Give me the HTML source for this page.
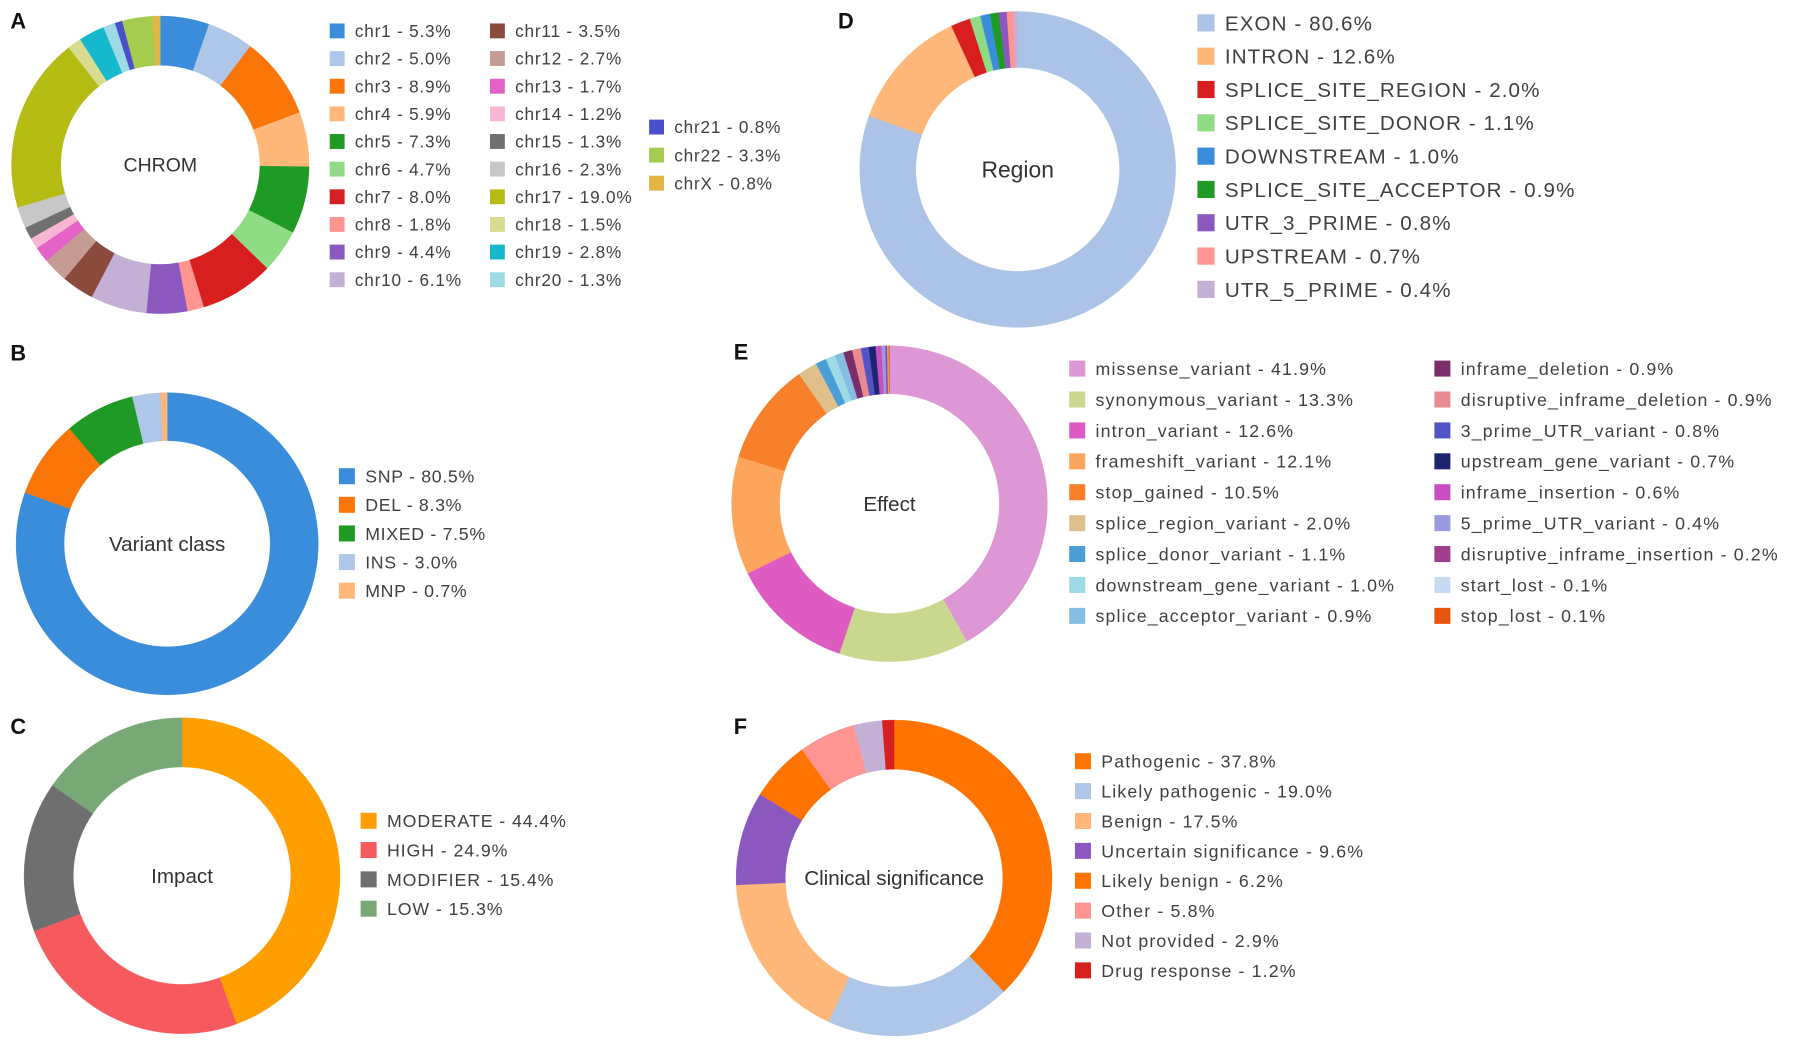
<!DOCTYPE html>
<html><head><meta charset="utf-8"><style>
html,body{margin:0;padding:0;background:#fff;}
svg{display:block;font-family:"Liberation Sans",Arial,sans-serif;}
.lg{fill:#404040;}
.pl{font-weight:bold;fill:#111;font-size:19px;}
.ct{fill:#333;}
</style></head><body>
<svg id="fig" width="1795" height="1052" viewBox="0 0 1568 919"></svg>
<script>
const chromCats=["chr1","chr2","chr3","chr4","chr5","chr6","chr7","chr8","chr9","chr10","chr11","chr12","chr13","chr14","chr15","chr16","chr17","chr18","chr19","chr20","chr21","chr22","chrX"];
const chromVals=[5.3,5.0,8.9,5.9,7.3,4.7,8.0,1.8,4.4,6.1,3.5,2.7,1.7,1.2,1.3,2.3,19.0,1.5,2.8,1.3,0.8,3.3,0.8];
const chromCols=["#3a8ddb","#aec7e8","#fb7608","#ffb77a","#1f9a24","#8fdc85","#d81f1f","#ff9490","#8b58c0","#c5b0d5","#8a4a3c","#c49c94","#e462c6","#f7b6d2","#707070","#c7c7c7","#b5bb12","#d7dc8f","#15b8cc","#9edae5","#4a4fcc","#a4cc4e","#e3b545"];
const variantCats=["SNP","DEL","MIXED","INS","MNP"];
const variantVals=[80.5,8.3,7.5,3.0,0.7];
const variantCols=["#3a8ddb","#fb7608","#1f9a24","#aec7e8","#ffb77a"];
const impactCats=["MODERATE","HIGH","MODIFIER","LOW"];
const impactVals=[44.4,24.9,15.4,15.3];
const impactCols=["#ff9e00","#f65a5e","#6f6f6f","#78a876"];
const regionCats=["EXON","INTRON","SPLICE_SITE_REGION","SPLICE_SITE_DONOR","DOWNSTREAM","SPLICE_SITE_ACCEPTOR","UTR_3_PRIME","UPSTREAM","UTR_5_PRIME"];
const regionVals=[80.6,12.6,2.0,1.1,1.0,0.9,0.8,0.7,0.4];
const regionCols=["#aac3e6","#ffb77a","#d81f1f","#8fdc85","#3a8ddb","#1f9a24","#8b58c0","#ff9490","#c5b0d5"];
const effectCats=["missense_variant","synonymous_variant","intron_variant","frameshift_variant","stop_gained","splice_region_variant","splice_donor_variant","downstream_gene_variant","splice_acceptor_variant","inframe_deletion","disruptive_inframe_deletion","3_prime_UTR_variant","upstream_gene_variant","inframe_insertion","5_prime_UTR_variant","disruptive_inframe_insertion","start_lost","stop_lost"];
const effectVals=[41.9,13.3,12.6,12.1,10.5,2.0,1.1,1.0,0.9,0.9,0.9,0.8,0.7,0.6,0.4,0.2,0.1,0.1];
const effectCols=["#dc97d4","#c9d78f","#de5cc2","#fca55c","#f9802a","#dfc08a","#4a9ed6","#9edae5","#86bde2","#7a2c6b","#e88a8f","#5254c6","#1c2470","#c84fc2","#9a9ae0","#a03d8d","#c6dbef","#e6550d"];
const clinCats=["Pathogenic","Likely pathogenic","Benign","Uncertain significance","Likely benign","Other","Not provided","Drug response"];
const clinVals=[37.8,19.0,17.5,9.6,6.2,5.8,2.9,1.2];
const clinCols=["#ff7300","#aec7e8","#ffb77a","#8b58c0","#ff7300","#ff9490","#c5b0d5","#d81f1f"];

const NS="http://www.w3.org/2000/svg";
const svg=document.getElementById('fig');
function mk(tag,attrs,parent){const e=document.createElementNS(NS,tag);for(const k in attrs)e.setAttribute(k,attrs[k]);(parent||svg).appendChild(e);return e;}
function angleScale(vals){const t=vals.reduce((a,b)=>a+b,0);return v=>v/t*Math.PI*2;}
function pt(cx,cy,r,a){return [cx+r*Math.sin(a),cy-r*Math.cos(a)];}
function donut(g,cx,cy,ro,ri,vals,cols,cats,title,fs){
  const sc=angleScale(vals);let a=0;
  vals.forEach((v,i)=>{
    const b=a+sc(v);const large=(b-a)>Math.PI?1:0;
    const [x1,y1]=pt(cx,cy,ro,a),[x2,y2]=pt(cx,cy,ro,b),[x3,y3]=pt(cx,cy,ri,b),[x4,y4]=pt(cx,cy,ri,a);
    const p=mk('path',{d:`M${x1},${y1}A${ro},${ro} 0 ${large} 1 ${x2},${y2}L${x3},${y3}A${ri},${ri} 0 ${large} 0 ${x4},${y4}Z`,fill:cols[i],stroke:cols[i],'stroke-width':0.3},g);
    
    
    a=b;
  });
  const t=mk('text',{x:cx,y:cy+fs*0.35,'text-anchor':'middle','font-size':fs,class:'ct'},g);t.textContent=title;
  
  
}
function legend(g,x,y0,step,fs,sq,cats,vals,cols,start,end,ls){
  for(let i=start;i<end;i++){
    const y=y0+(i-start)*step;
    const lg=mk('g',{},g);
    
    
    mk('rect',{x:x,y:y-sq/2,width:sq,height:sq,fill:cols[i]},lg);
    const t=mk('text',{x:x+sq+9,y:y+fs*0.36,'font-size':fs,'letter-spacing':ls,class:'lg'},lg);
    t.textContent=cats[i]+' - '+vals[i].toFixed(1)+'%';
  }
}
function panel(name,letter,lx,ly){
  const g=mk('g',{});
  const t=mk('text',{x:lx,y:ly,class:'pl'},g);t.textContent=letter;
  
  
  return g;
}
let g;
g=panel('chrom-panel','A',9,25);
donut(g,140,144,130,87,chromVals,chromCols,chromCats,'CHROM',17);
legend(g,288,27,24.15,15,13,chromCats,chromVals,chromCols,0,10,0.7);
legend(g,428,27,24.15,15,13,chromCats,chromVals,chromCols,10,20,0.7);
legend(g,567,111,24.5,15,13,chromCats,chromVals,chromCols,20,23,0.7);

g=panel('region-panel','D',732,25);
donut(g,889,148,138,89,regionVals,regionCols,regionCats,'Region',20);
legend(g,1046,20,29.1,18,15,regionCats,regionVals,regionCols,0,9,0.95);

g=panel('variant-class-panel','B',9,315);
donut(g,146,475,132,90,variantVals,variantCols,variantCats,'Variant  class',18);
legend(g,296,416,25,15.5,14,variantCats,variantVals,variantCols,0,5,0.6);

g=panel('effect-panel','E',641,314);
donut(g,777,440,138,96,effectVals,effectCols,effectCats,'Effect',18);
legend(g,934,322,27,15.5,14,effectCats,effectVals,effectCols,0,9,1.0);
legend(g,1253,322,27,15.5,14,effectCats,effectVals,effectCols,9,18,1.0);

g=panel('impact-panel','C',9,641);
donut(g,159,765,138,95,impactVals,impactCols,impactCats,'Impact',18);
legend(g,315,717,25.6,15.5,14,impactCats,impactVals,impactCols,0,4,0.8);

g=panel('clinical-panel','F',641,641);
donut(g,781,767,138,95,clinVals,clinCols,clinCats,'Clinical  significance',18);
legend(g,939,665,26.1,15.5,14,clinCats,clinVals,clinCols,0,8,1.0);
</script>
</body></html>
